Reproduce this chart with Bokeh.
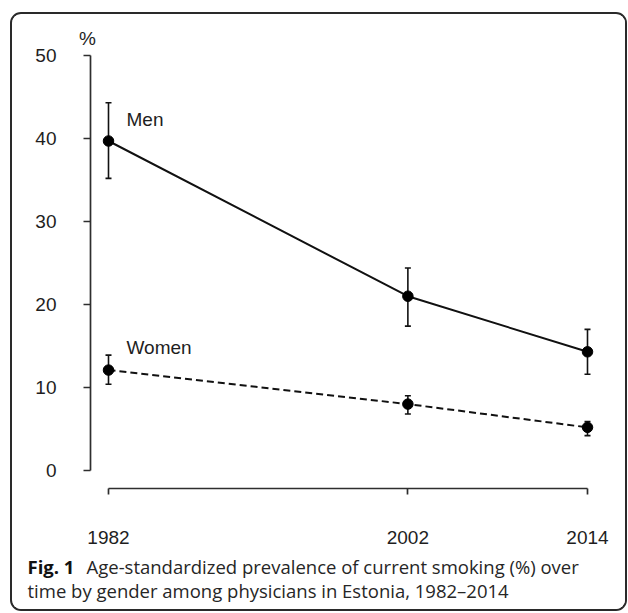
from bokeh.plotting import figure
from bokeh.models import ColumnDataSource, Range1d, FixedTicker, Whisker, TeeHead, Label
from bokeh.embed import file_html
from bokeh.resources import INLINE

# ---- data ----
years = [1982, 2002, 2014]
men = [39.7, 21.0, 14.3]
men_lower = [35.2, 17.4, 11.6]
men_upper = [44.3, 24.4, 17.0]
women = [12.1, 8.0, 5.2]
women_lower = [10.4, 6.8, 4.2]
women_upper = [13.9, 9.0, 5.9]
y_ticks = [0, 10, 20, 30, 40, 50]
caption_bold = "Fig. 1"
caption_line1 = "Age-standardized prevalence of current smoking (%) over"
caption_line2 = "time by gender among physicians in Estonia, 1982\u20132014"

# ---- layout geometry (pixels) ----
ML, MR, MT, MB = 78, 27, 34, 121
FW, FH = 508, 440
px_year = 479 / 32.0      # pixels per year
px_unit = 8.3             # pixels per percentage point
x0 = 1982 - 18 / px_year
y0 = -18 / px_unit


def dx(px_from_1982):
    return 1982 + px_from_1982 / px_year


def dy(px_above_zero):
    return px_above_zero / px_unit


p = figure(frame_width=FW, frame_height=FH, output_backend="svg", toolbar_location=None,
           x_range=Range1d(x0, x0 + FW / px_year),
           y_range=Range1d(y0, y0 + FH / px_unit),
           min_border_left=ML, min_border_right=MR,
           min_border_top=MT, min_border_bottom=MB)
p.styles = {"border": "2px solid #2a2a2a", "border-radius": "11px",
            "box-sizing": "content-box", "overflow": "hidden",
            "margin-left": "10px", "margin-top": "12px"}
p.background_fill_color = "white"
p.border_fill_color = "white"
p.outline_line_color = None
p.grid.visible = False

AX = "#2e2e2e"
TXT = "#1e1e1e"
FONT = "Liberation Sans"

xa = p.xaxis[0]
xa.ticker = FixedTicker(ticks=years)
xa.bounds = (1982, 2014)
xa.axis_line_color = AX
xa.axis_line_width = 1.7
xa.major_tick_line_color = AX
xa.major_tick_line_width = 1.7
xa.major_tick_out = 6
xa.major_tick_in = 0
xa.minor_tick_out = 0
xa.minor_tick_in = 0
xa.major_label_standoff = 36
xa.major_label_text_font = FONT
xa.major_label_text_font_size = "19px"
xa.major_label_text_color = TXT

ya = p.yaxis[0]
ya.ticker = FixedTicker(ticks=y_ticks)
ya.bounds = (0, 50)
ya.axis_line_color = AX
ya.axis_line_width = 1.7
ya.major_tick_line_color = AX
ya.major_tick_line_width = 1.7
ya.major_tick_out = 7
ya.major_tick_in = 0
ya.minor_tick_out = 0
ya.minor_tick_in = 0
ya.major_label_standoff = 27
ya.major_label_text_font = FONT
ya.major_label_text_font_size = "19px"
ya.major_label_text_color = TXT

men_src = ColumnDataSource(dict(x=years, y=men, lo=men_lower, hi=men_upper))
wom_src = ColumnDataSource(dict(x=years, y=women, lo=women_lower, hi=women_upper))

p.line("x", "y", source=men_src, line_color="#111111", line_width=2)
p.line("x", "y", source=wom_src, line_color="#111111", line_width=2, line_dash="7 4")

for src in (men_src, wom_src):
    w = Whisker(source=src, base="x", lower="lo", upper="hi",
                line_color="#111111", line_width=1.6,
                upper_head=TeeHead(size=6, line_color="#111111", line_width=1.6),
                lower_head=TeeHead(size=6, line_color="#111111", line_width=1.6))
    p.add_layout(w)

p.scatter("x", "y", source=men_src, size=10.5, fill_color="black", line_color="black")
p.scatter("x", "y", source=wom_src, size=10.5, fill_color="black", line_color="black")

# series labels (inside the frame)
p.add_layout(Label(x=dx(18), y=dy(351.1), text="Men", text_font=FONT, text_font_size="19px",
                   text_color=TXT, text_baseline="middle", text_align="left"))
p.add_layout(Label(x=dx(18), y=dy(123.3), text="Women", text_font=FONT, text_font_size="19px",
                   text_color=TXT, text_baseline="middle", text_align="left"))

# unit label on top of the y axis (side panel -> not clipped)
p.add_layout(Label(x=dx(-21), y=dy(432.5), text="%", text_font=FONT, text_font_size="19px",
                   text_color=TXT, text_baseline="middle", text_align="center",
                   text_line_height=1.0), "left")

# caption (side panels -> not clipped; positioned in data units)
cap_font = "Open Sans"
cap_size = "18.5px"
p.add_layout(Label(x=dx(-81), y=dy(-96), text=caption_bold,
                   text_font=cap_font, text_font_style="bold", text_font_size=cap_size,
                   text_color="#111111", text_baseline="middle", text_align="left",
                   text_line_height=1.0), "below")
p.add_layout(Label(x=dx(-22), y=dy(-96), text=caption_line1,
                   text_font=cap_font, text_font_size=cap_size,
                   text_color="#262626", text_baseline="middle", text_align="left",
                   text_line_height=1.0), "below")
p.add_layout(Label(x=dx(-81), y=dy(-120), text=caption_line2,
                   text_font=cap_font, text_font_size=cap_size,
                   text_color="#262626", text_baseline="middle", text_align="left",
                   text_line_height=1.0), "above")

open("out.html", "w").write(file_html(p, INLINE))
